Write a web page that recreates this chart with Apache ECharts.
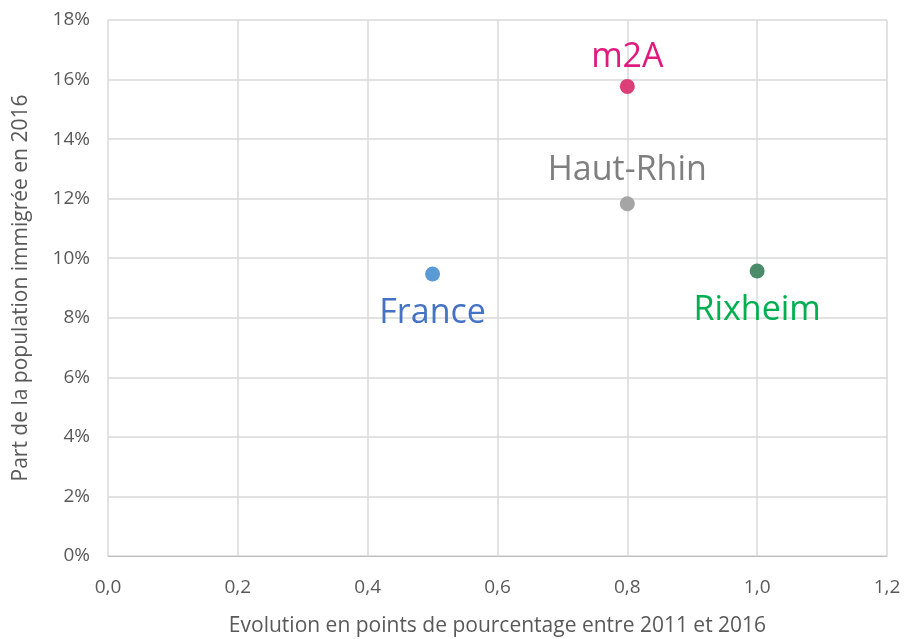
<!DOCTYPE html>
<html>
<head>
<meta charset="utf-8">
<script src="https://cdn.jsdelivr.net/npm/echarts@6/dist/echarts.min.js"></script>
<style>
  html, body { margin: 0; padding: 0; background: #fff; }
  #chart { width: 905px; height: 639px; }
</style>
</head>
<body>
<div id="chart"></div>
<script>
// données
const names = ['France', 'm2A', 'Haut-Rhin', 'Rixheim'];
const evolution = [0.5, 0.8, 0.8, 1.0];
const partImmigree = [9.47, 15.77, 11.83, 9.57];
const dotColors = ['#5b9bd5', '#dc3f78', '#a5a5a5', '#4a8b6a'];
const labelColors = ['#4472c4', '#e0197f', '#7f7f7f', '#00b050'];
const labelPos = ['bottom', 'top', 'top', 'bottom'];
const labelDist = [15, 5, 9, 15];

const font = '"Open Sans", "Noto Sans", sans-serif';

const chart = echarts.init(document.getElementById('chart'));

const series = names.map((n, i) => ({
  name: n,
  type: 'scatter',
  symbolSize: 15,
  data: [[evolution[i], partImmigree[i]]],
  itemStyle: { color: dotColors[i], opacity: 1 },
  label: {
    show: true,
    formatter: n,
    position: labelPos[i],
    distance: labelDist[i],
    color: labelColors[i],
    fontSize: 34,
    fontFamily: font
  }
}));

chart.setOption({
  animation: false,
  grid: { left: 108, right: 18, top: 20, bottom: 83, outerBoundsMode: 'none', containLabel: false },
  xAxis: {
    type: 'value',
    min: 0, max: 1.2, interval: 0.2,
    name: 'Evolution en points de pourcentage entre 2011 et 2016',
    nameLocation: 'middle',
    nameGap: 60,
    nameTextStyle: { color: '#595959', fontSize: 21, fontFamily: font },
    axisLine: { show: true, lineStyle: { color: '#bfbfbf' } },
    axisTick: { show: false },
    axisLabel: {
      color: '#595959', fontSize: 19, fontFamily: font, margin: 22,
      formatter: v => v.toFixed(1).replace('.', ',')
    },
    splitLine: { show: true, lineStyle: { color: '#d9d9d9', width: 1.5 } }
  },
  yAxis: {
    type: 'value',
    min: 0, max: 18, interval: 2,
    name: 'Part de la population immigrée en 2016',
    nameLocation: 'middle',
    nameGap: 76,
    nameTextStyle: { color: '#595959', fontSize: 21, fontFamily: font },
    axisLine: { show: false },
    axisTick: { show: false },
    axisLabel: {
      color: '#595959', fontSize: 19, fontFamily: font, margin: 18,
      formatter: v => v + '%'
    },
    splitLine: { show: true, lineStyle: { color: '#d9d9d9', width: 1.5 } }
  },
  series: series
});
</script>
</body>
</html>
